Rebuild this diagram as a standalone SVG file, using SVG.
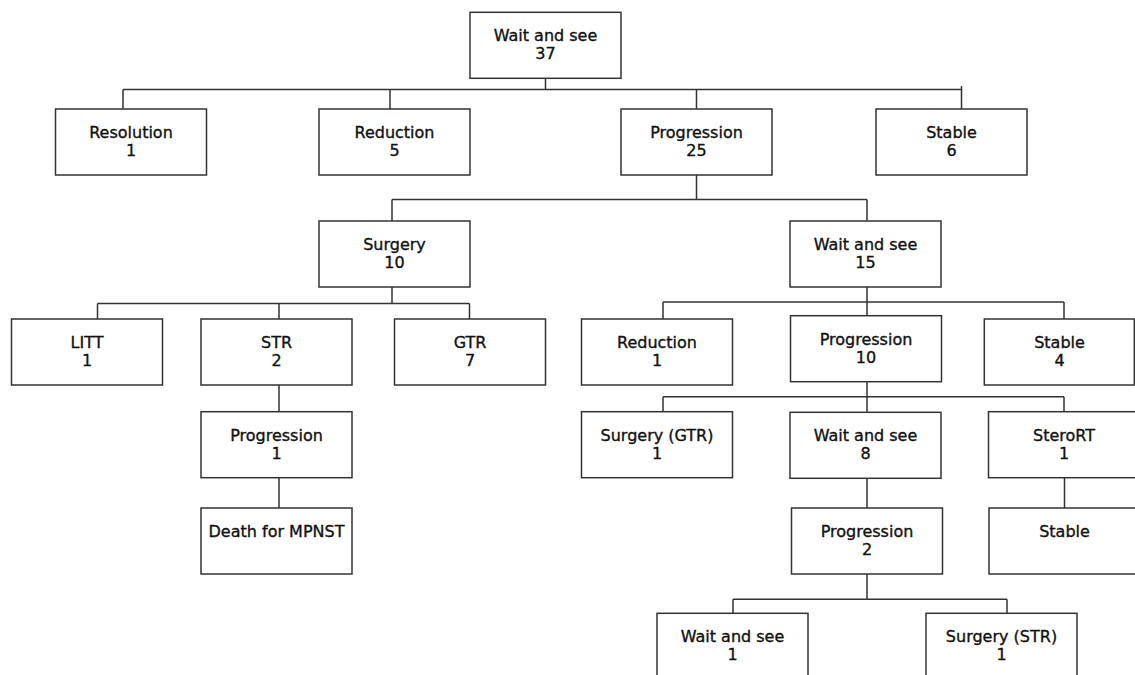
<svg xmlns="http://www.w3.org/2000/svg" width="1135" height="675" viewBox="0 0 1135 675">
<style>
.box{fill:#fff;stroke:#333;stroke-width:1.5}
.lnk{fill:none;stroke:#333;stroke-width:1.5}
text{font-family:"DejaVu Sans","Verdana",sans-serif;font-size:16px;fill:#111;stroke:#111;stroke-width:0.35;text-anchor:middle}
</style>
<rect width="1135" height="675" fill="#fff"/>
<g id="connectors" class="lnk">
<path d="M545.5 78V89.5M123 89.5H961.5M123 89.5V109M390 89.5V109M696.5 89.5V109M961.5 86V109"/>
<path d="M696.5 175V199.5M392 199.5H867M392 199.5V221M867 199.5V221"/>
<path d="M392 287V303.5M97.5 303.5H469.5M97.5 303.5V319M279 303.5V319M469.5 303.5V319"/>
<path d="M867 287V315.7M663 302H1064M663 302V319M1064 302V319"/>
<path d="M279 385V411.7M279 477.7V508"/>
<path d="M867 381.7V412.3M663 396.7H1064M663 396.7V411.7M1064 396.7V411.7"/>
<path d="M867 478.3V508M1064.5 477.7V508"/>
<path d="M867 574V599.3M733 599.3H1007M733 599.3V613.3M1007 599.3V613.3"/>
</g>
<g id="n_root"><rect class="box" x="470" y="12.3" width="151" height="66"/><text x="545.5" y="41.3">Wait and see</text><text x="545.5" y="59.3">37</text></g>
<g id="n_resolution"><rect class="box" x="55.5" y="109" width="151" height="66"/><text x="131" y="138">Resolution</text><text x="131" y="156">1</text></g>
<g id="n_reduction"><rect class="box" x="319" y="109" width="151" height="66"/><text x="394.5" y="138">Reduction</text><text x="394.5" y="156">5</text></g>
<g id="n_progression"><rect class="box" x="621" y="109" width="151" height="66"/><text x="696.5" y="138">Progression</text><text x="696.5" y="156">25</text></g>
<g id="n_stable"><rect class="box" x="876" y="109" width="151" height="66"/><text x="951.5" y="138">Stable</text><text x="951.5" y="156">6</text></g>
<g id="n_surgery"><rect class="box" x="319" y="221" width="151" height="66"/><text x="394.5" y="250">Surgery</text><text x="394.5" y="268">10</text></g>
<g id="n_wait15"><rect class="box" x="790" y="221" width="151" height="66"/><text x="865.5" y="250">Wait and see</text><text x="865.5" y="268">15</text></g>
<g id="n_litt"><rect class="box" x="11.5" y="319" width="151" height="66"/><text x="87" y="348">LITT</text><text x="87" y="366">1</text></g>
<g id="n_str"><rect class="box" x="201" y="319" width="151" height="66"/><text x="276.5" y="348">STR</text><text x="276.5" y="366">2</text></g>
<g id="n_gtr"><rect class="box" x="394.5" y="319" width="151" height="66"/><text x="470" y="348">GTR</text><text x="470" y="366">7</text></g>
<g id="n_reduction1"><rect class="box" x="581.5" y="319" width="151" height="66"/><text x="657" y="348">Reduction</text><text x="657" y="366">1</text></g>
<g id="n_progression10"><rect class="box" x="790.5" y="315.7" width="151" height="66"/><text x="866" y="344.7">Progression</text><text x="866" y="362.7">10</text></g>
<g id="n_stable4"><rect class="box" x="984.3" y="319" width="150" height="66"/><text x="1059.5" y="348">Stable</text><text x="1059.5" y="366">4</text></g>
<g id="n_progression1"><rect class="box" x="201" y="411.7" width="151" height="66"/><text x="276.5" y="440.7">Progression</text><text x="276.5" y="458.7">1</text></g>
<g id="n_death"><rect class="box" x="201" y="508" width="151" height="66"/><text x="276.5" y="537">Death for MPNST</text></g>
<g id="n_surgerygtr"><rect class="box" x="581.5" y="411.7" width="151" height="66"/><text x="657" y="440.7">Surgery (GTR)</text><text x="657" y="458.7">1</text></g>
<g id="n_wait8"><rect class="box" x="790" y="412.3" width="151" height="66"/><text x="865.5" y="441.3">Wait and see</text><text x="865.5" y="459.3">8</text></g>
<g id="n_sterort"><rect class="box" x="988.5" y="411.7" width="151" height="66"/><text x="1064" y="440.7">SteroRT</text><text x="1064" y="458.7">1</text></g>
<g id="n_progression2"><rect class="box" x="791.5" y="508" width="151" height="66"/><text x="867" y="537">Progression</text><text x="867" y="555">2</text></g>
<g id="n_stable_end"><rect class="box" x="989" y="508" width="151" height="66"/><text x="1064.5" y="537">Stable</text></g>
<g id="n_wait1"><rect class="box" x="657" y="613.3" width="151" height="66"/><text x="732.5" y="642.3">Wait and see</text><text x="732.5" y="660.3">1</text></g>
<g id="n_surgerystr"><rect class="box" x="926" y="613.3" width="151" height="66"/><text x="1001.5" y="642.3">Surgery (STR)</text><text x="1001.5" y="660.3">1</text></g>
</svg>
